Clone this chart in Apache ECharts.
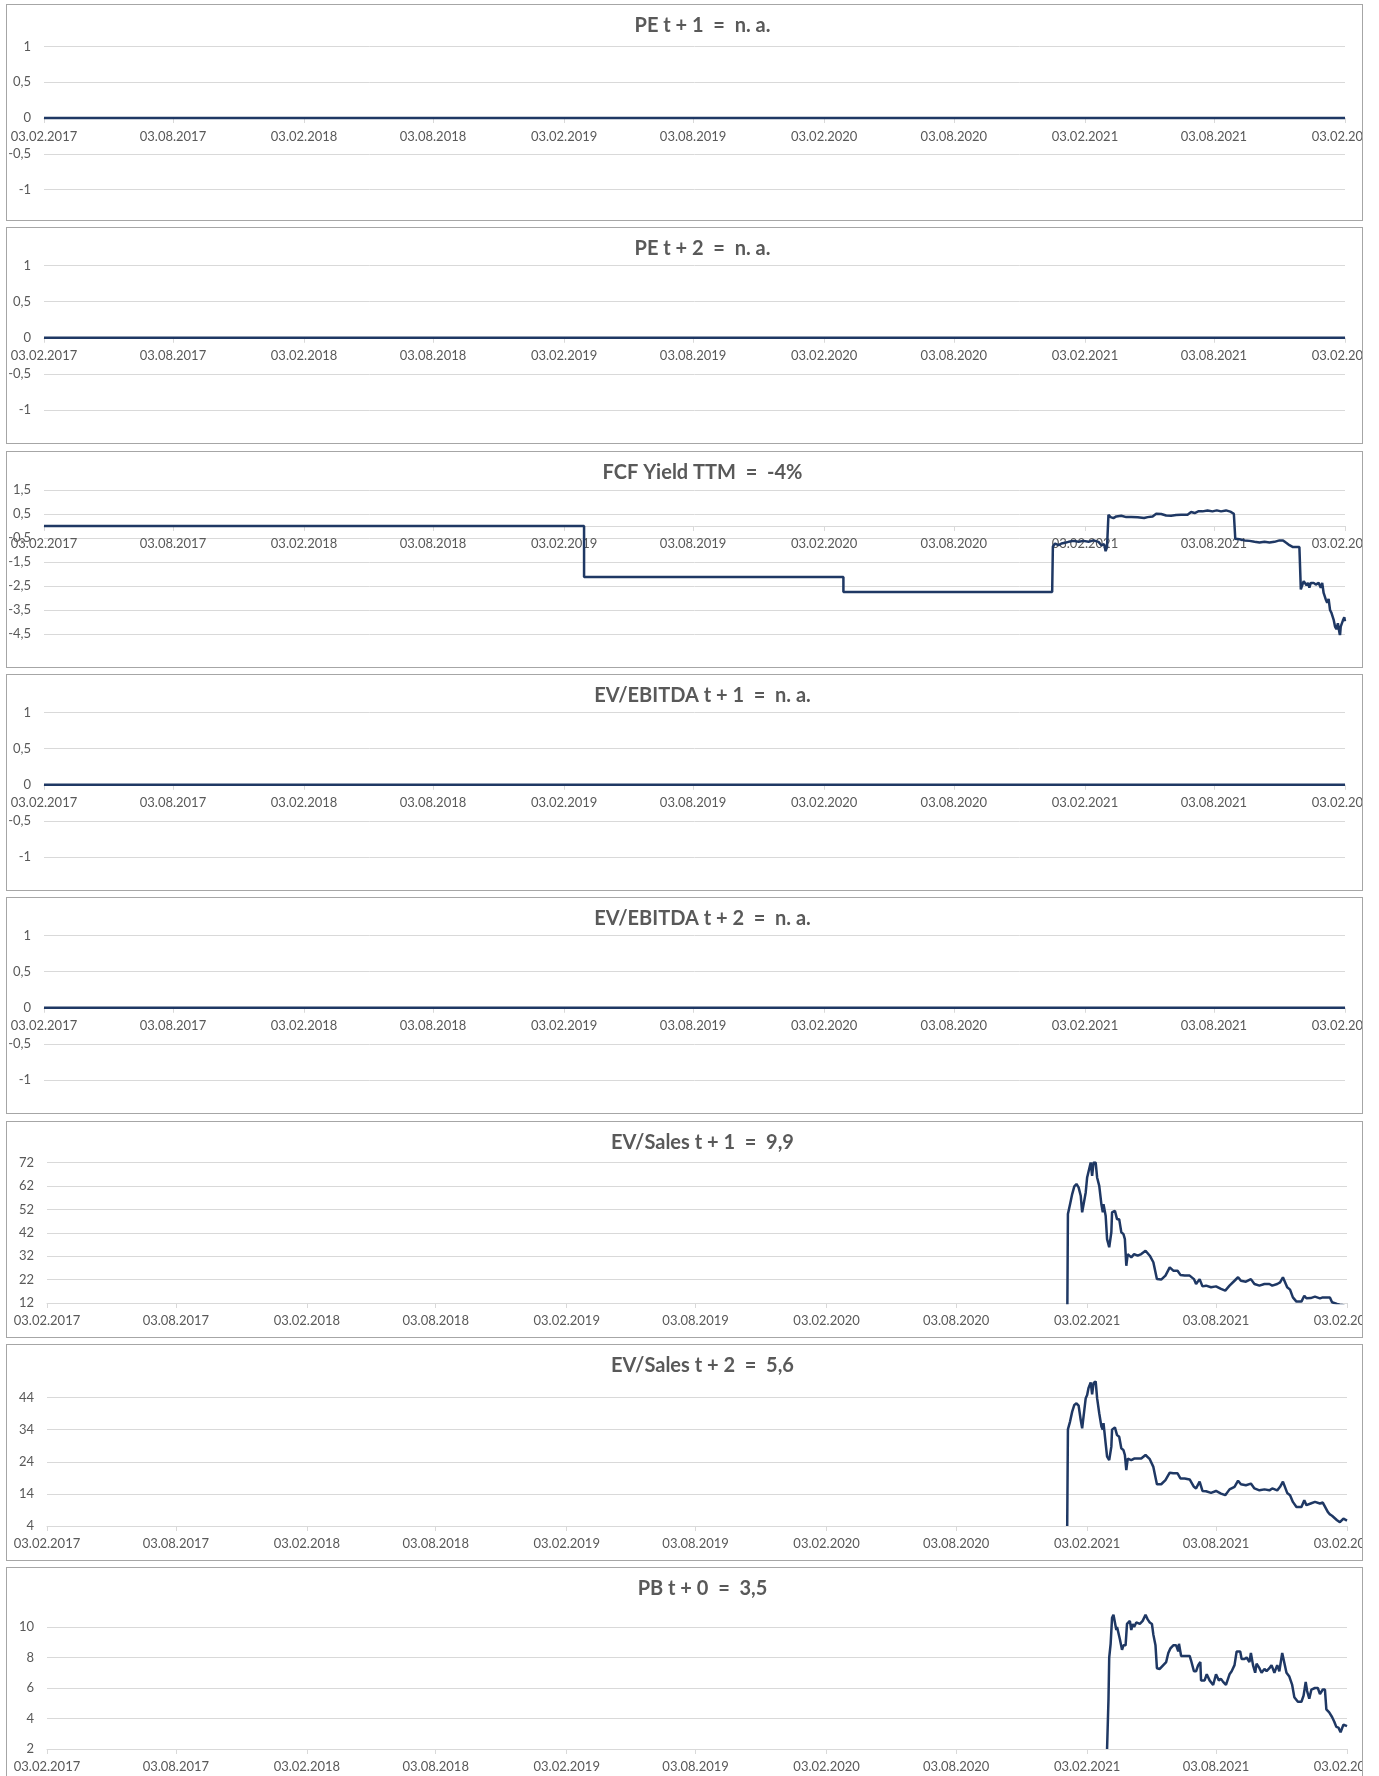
<!DOCTYPE html>
<html>
<head>
<meta charset="utf-8">
<title>Bewertungskennzahlen</title>
<script src="https://cdn.jsdelivr.net/npm/echarts@6.0.0/dist/echarts.min.js"></script>
<style>
html, body { margin: 0; padding: 0; background: #fff; }
body { width: 1379px; height: 1776px; position: relative; overflow: hidden; }
.panel {
  position: absolute;
  left: 6px;
  width: 1357px;
  height: 217px;
  box-sizing: border-box;
  border: 1px solid #a6a6a6;
  background: #fff;
}
.panel .chart { width: 1355px; height: 215px; }
</style>
</head>
<body>
<div id="root"></div>
<script>
// x-Achse: 03.02.2017 bis 03.02.2022, Beschriftung halbjährlich
const axisStart = '2017-02-03'
const axisEnd = '2022-02-03'
const tickDates = [
  '2017-02-03', '2017-08-03', '2018-02-03', '2018-08-03', '2019-02-03', '2019-08-03',
  '2020-02-03', '2020-08-03', '2021-02-03', '2021-08-03', '2022-02-03'
]

// Titel der Einzelcharts
const titles = [
  'PE t + 1  =  n. a.',
  'PE t + 2  =  n. a.',
  'FCF Yield TTM  =  -4%',
  'EV/EBITDA t + 1  =  n. a.',
  'EV/EBITDA t + 2  =  n. a.',
  'EV/Sales t + 1  =  9,9',
  'EV/Sales t + 2  =  5,6',
  'PB t + 0  =  3,5'
]

// n. a. -> Linie auf 0
const naDates = ['2017-02-03', '2022-02-03']
const naValues = [0, 0]

// FCF Yield TTM (%)
const fcfDates = [
  '2017-02-03', '2019-03-03', '2019-03-03', '2020-03-01', '2020-03-01', '2020-12-19', '2020-12-20',
  '2020-12-23', '2020-12-25', '2020-12-28', '2021-01-01', '2021-01-06', '2021-01-11', '2021-01-18',
  '2021-01-25', '2021-02-01', '2021-02-08', '2021-02-15', '2021-02-22', '2021-02-26', '2021-03-02',
  '2021-03-04', '2021-03-06', '2021-03-08', '2021-03-11', '2021-03-15', '2021-03-19', '2021-03-26',
  '2021-04-02', '2021-04-09', '2021-04-18', '2021-04-27', '2021-05-02', '2021-05-09', '2021-05-14',
  '2021-05-21', '2021-05-28', '2021-06-04', '2021-06-11', '2021-06-18', '2021-06-27', '2021-07-02',
  '2021-07-07', '2021-07-12', '2021-07-18', '2021-07-25', '2021-08-01', '2021-08-07', '2021-08-13',
  '2021-08-20', '2021-08-26', '2021-08-31', '2021-09-02', '2021-09-08', '2021-09-15', '2021-09-22',
  '2021-09-29', '2021-10-06', '2021-10-13', '2021-10-20', '2021-10-27', '2021-11-03', '2021-11-08',
  '2021-11-12', '2021-11-17', '2021-11-22', '2021-11-26', '2021-12-01', '2021-12-03', '2021-12-05',
  '2021-12-07', '2021-12-11', '2021-12-13', '2021-12-15', '2021-12-17', '2021-12-21', '2021-12-24',
  '2021-12-28', '2021-12-31', '2022-01-02', '2022-01-04', '2022-01-07', '2022-01-09', '2022-01-11',
  '2022-01-13', '2022-01-15', '2022-01-18', '2022-01-20', '2022-01-22', '2022-01-24', '2022-01-25',
  '2022-01-27', '2022-01-28', '2022-01-31', '2022-02-02', '2022-02-03'
]
const fcfValues = [
  0, 0, -2.13, -2.13, -2.75, -2.75, -0.85,
  -0.73, -0.66, -0.8, -0.73, -0.7, -0.66, -0.62,
  -0.66, -0.62, -0.66, -0.6, -0.66, -0.8, -0.76,
  -1.05, -0.88, 0.47, 0.37, 0.33, 0.4, 0.43,
  0.37, 0.37, 0.36, 0.33, 0.37, 0.4, 0.51,
  0.5, 0.44, 0.43, 0.46, 0.47, 0.47, 0.58,
  0.54, 0.61, 0.61, 0.65, 0.61, 0.65, 0.61,
  0.65, 0.6, 0.51, -0.53, -0.55, -0.6, -0.62,
  -0.66, -0.69, -0.66, -0.69, -0.66, -0.6, -0.6,
  -0.69, -0.8, -0.88, -0.88, -0.88, -2.64, -2.57,
  -2.3, -2.47, -2.37, -2.57, -2.37, -2.37, -2.44,
  -2.37, -2.57, -2.37, -2.79, -3.06, -3.2, -3.04,
  -3.5, -3.62, -3.9, -4.19, -4.3, -4.05, -4.25,
  -4.57, -4.19, -3.94, -3.8, -3.97
]

// EV/Sales t+1 und t+2
const salesDates = [
  '2021-01-06', '2021-01-07', '2021-01-10', '2021-01-13', '2021-01-16', '2021-01-19', '2021-01-22',
  '2021-01-25', '2021-01-27', '2021-01-29', '2021-02-01', '2021-02-03', '2021-02-05', '2021-02-08',
  '2021-02-10', '2021-02-12', '2021-02-15', '2021-02-17', '2021-02-20', '2021-02-23', '2021-02-25',
  '2021-02-26', '2021-03-01', '2021-03-03', '2021-03-06', '2021-03-09', '2021-03-10', '2021-03-14',
  '2021-03-17', '2021-03-20', '2021-03-23', '2021-03-26', '2021-03-28', '2021-03-30', '2021-04-01',
  '2021-04-06', '2021-04-10', '2021-04-15', '2021-04-20', '2021-04-26', '2021-05-02', '2021-05-07',
  '2021-05-12', '2021-05-18', '2021-05-24', '2021-05-30', '2021-06-04', '2021-06-10', '2021-06-14',
  '2021-06-20', '2021-06-27', '2021-07-03', '2021-07-06', '2021-07-11', '2021-07-15', '2021-07-20',
  '2021-07-27', '2021-08-03', '2021-08-10', '2021-08-16', '2021-08-22', '2021-08-29', '2021-09-03',
  '2021-09-07', '2021-09-14', '2021-09-21', '2021-09-26', '2021-10-03', '2021-10-10', '2021-10-17',
  '2021-10-21', '2021-10-28', '2021-11-01', '2021-11-05', '2021-11-07', '2021-11-11', '2021-11-15',
  '2021-11-19', '2021-11-24', '2021-12-01', '2021-12-05', '2021-12-08', '2021-12-14', '2021-12-20',
  '2021-12-27', '2021-12-31', '2022-01-07', '2022-01-10', '2022-01-13', '2022-01-15', '2022-01-20',
  '2022-01-24', '2022-01-29', '2022-02-03'
]
const salesT1Values = [
  0, 50, 54.2, 58.5, 61.8, 62.8, 61.4,
  57.8, 50.7, 51.4, 59.2, 65.6, 66.3, 72,
  66.3, 72, 72, 65.6, 62, 54.2, 50.7,
  54.2, 49.3, 39.3, 35.8, 42.2, 50.7, 51.4,
  47.8, 47.8, 42.2, 41.4, 39.3, 27.9, 32.9,
  31.5, 32.9, 32.2, 32.9, 34.3, 32.2, 29.4,
  22.2, 22, 23.7, 27.2, 25.8, 25.8, 24,
  23.7, 23.7, 22.2, 20.1, 22.2, 19.1, 19.4,
  18.7, 19.1, 18, 17.3, 19.4, 21.5, 23,
  21.5, 21.1, 22.2, 20.1, 19.4, 20.1, 20.1,
  19.4, 20.1, 20.8, 23, 22.2, 18.7, 17.7,
  14.4, 12.6, 12.6, 15.1, 14, 14.1, 14.7,
  14, 14.4, 14.4, 14.4, 12.3, 12, 11.6,
  11.3, 11, 9.9
]
const salesT2Values = [
  4, 34.1, 36.5, 39.6, 41.7, 42.2, 41.5,
  37, 34.4, 34.7, 43.8, 44.8, 47, 48.7,
  45, 48.5, 49, 43.8, 39.1, 35, 34,
  36, 29.7, 25.6, 24.5, 28.7, 34, 34.7,
  32.3, 31.8, 28.2, 27.6, 26.1, 21.4, 25,
  24.5, 25, 25, 25, 26.1, 24.8, 22.4,
  17, 17, 18.3, 20.6, 20.4, 20.4, 18.8,
  18.8, 18.5, 16.2, 15.7, 17.8, 14.9, 14.8,
  14.3, 14.9, 14.1, 13.6, 15.4, 16.2, 18.1,
  17, 16.7, 17.2, 15.7, 15.1, 15.4, 15.1,
  15.7, 15.1, 16.2, 17.8, 17.3, 14.3, 13.6,
  11.5, 9.9, 9.9, 12, 10.5, 11, 11.5,
  11, 11.3, 8.4, 7.6, 7.2, 6.8, 5.8,
  5.2, 6.3, 5.7
]

// PB t+0
const pbDates = [
  '2021-03-03', '2021-03-05', '2021-03-06', '2021-03-08', '2021-03-10', '2021-03-12', '2021-03-14',
  '2021-03-16', '2021-03-17', '2021-03-19', '2021-03-21', '2021-03-24', '2021-03-26', '2021-03-29',
  '2021-03-31', '2021-04-02', '2021-04-04', '2021-04-06', '2021-04-08', '2021-04-10', '2021-04-13',
  '2021-04-15', '2021-04-18', '2021-04-22', '2021-04-26', '2021-04-29', '2021-05-02', '2021-05-05',
  '2021-05-07', '2021-05-10', '2021-05-12', '2021-05-16', '2021-05-21', '2021-05-25', '2021-05-28',
  '2021-05-31', '2021-06-04', '2021-06-08', '2021-06-11', '2021-06-12', '2021-06-15', '2021-06-17',
  '2021-06-21', '2021-06-27', '2021-06-29', '2021-07-03', '2021-07-06', '2021-07-09', '2021-07-12',
  '2021-07-13', '2021-07-18', '2021-07-21', '2021-07-25', '2021-07-30', '2021-08-03', '2021-08-07',
  '2021-08-10', '2021-08-13', '2021-08-17', '2021-08-22', '2021-08-25', '2021-08-29', '2021-09-01',
  '2021-09-06', '2021-09-08', '2021-09-12', '2021-09-15', '2021-09-19', '2021-09-21', '2021-09-24',
  '2021-09-27', '2021-09-29', '2021-10-03', '2021-10-06', '2021-10-10', '2021-10-13', '2021-10-17',
  '2021-10-20', '2021-10-24', '2021-10-28', '2021-10-31', '2021-11-04', '2021-11-06', '2021-11-10',
  '2021-11-14', '2021-11-18', '2021-11-21', '2021-11-26', '2021-12-01', '2021-12-04', '2021-12-07',
  '2021-12-09', '2021-12-12', '2021-12-15', '2021-12-20', '2021-12-24', '2021-12-27', '2021-12-31',
  '2022-01-03', '2022-01-05', '2022-01-09', '2022-01-13', '2022-01-16', '2022-01-19', '2022-01-22',
  '2022-01-25', '2022-01-29', '2022-02-03'
]
const pbValues = [
  2, 5.3, 8, 8.9, 10.6, 10.8, 10.8,
  9.8, 10, 9.9, 9.2, 8.5, 8.8, 8.8,
  10.2, 10.3, 10.4, 9.8, 10.2, 10, 10.3,
  10.2, 10.2, 10.4, 10.8, 10.5, 10.3, 10.2,
  9.5, 8.8, 7.3, 7.25, 7.5, 7.7, 8.3,
  8.6, 8.8, 8.8, 8.4, 8.9, 8.1, 8.2,
  8.1, 8.1, 7.8, 7.1, 7.1, 7.5, 7.7,
  6.5, 6.5, 6.9, 6.5, 6.2, 6.9, 6.5,
  6.6, 6.4, 6.2, 6.9, 7.1, 7.5, 8.4,
  8.4, 7.9, 7.9, 8, 7.7, 8.3, 7.5,
  7, 7.6, 7.3, 7, 7.25, 7.1, 7.3,
  7.5, 7, 7.5, 7.1, 8.3, 8.4, 7,
  6.75, 6.2, 5.4, 5.1, 5.1, 5.5, 6.4,
  5.8, 5.3, 5.9, 6, 6, 5.6, 5.9,
  5.9, 4.6, 4.4, 4.1, 3.8, 3.45, 3.4,
  3.1, 3.6, 3.5
]

// Farben / Schrift
const LINE_COLOR = '#1f3864'
const GRID_COLOR = '#d9d9d9'
const TEXT_COLOR = '#595959'
const FONT = 'Lato, "Open Sans", sans-serif'

// Layout je Chart (Pixel innerhalb des Rahmens)
const panels = [
  { title: titles[0], dates: naDates, values: naValues, y: [-1, 1, 0.5], left: 37, top: 41.5, width: 1301, height: 143, labelGap: 12, clip: true },
  { title: titles[1], dates: naDates, values: naValues, y: [-1, 1, 0.5], left: 37, top: 37.5, width: 1301, height: 144.5, labelGap: 12, clip: true },
  { title: titles[2], dates: fcfDates, values: fcfValues, y: [-4.5, 1.5, 1], left: 37, top: 38, width: 1301, height: 144, labelGap: 11, clip: true },
  { title: titles[3], dates: naDates, values: naValues, y: [-1, 1, 0.5], left: 37, top: 37.5, width: 1301, height: 144.5, labelGap: 12, clip: true },
  { title: titles[4], dates: naDates, values: naValues, y: [-1, 1, 0.5], left: 37, top: 37.5, width: 1301, height: 144.5, labelGap: 12, clip: true },
  { title: titles[5], dates: salesDates, values: salesT1Values, y: [12, 72, 10], left: 40, top: 40.5, width: 1300, height: 140.5, labelGap: 11, clip: true },
  { title: titles[6], dates: salesDates, values: salesT2Values, y: [4, 44, 10], left: 40, top: 52.5, width: 1300, height: 128.5, labelGap: 11, clip: false },
  { title: titles[7], dates: pbDates, values: pbValues, y: [2, 10, 2], left: 40, top: 59, width: 1300, height: 122, labelGap: 11, clip: false }
]

const toTime = s => echarts.number.parseDate(s).getTime()
const tickValues = tickDates.map(toTime)

const pad = n => String(n).padStart(2, '0')
const formatDate = v => {
  const d = new Date(v)
  return pad(d.getDate()) + '.' + pad(d.getMonth() + 1) + '.' + d.getFullYear()
}
const formatNumber = v => String(v).replace('.', ',')

// wie in Excel: x-Achse kreuzt bei 0, wenn 0 im Wertebereich liegt
const zeroOffset = (p) => {
  const [min, max] = p.y
  if (min >= 0 || max <= 0) return 0
  return -p.height * (0 - min) / (max - min)
}

const buildOption = (p) => ({
  animation: false,
  grid: {
    left: p.left,
    top: p.top,
    width: p.width,
    height: p.height,
    outerBoundsMode: 'none',
    containLabel: false
  },
  graphic: [{
    type: 'text',
    x: 695.5,
    y: 20.5,
    silent: true,
    style: {
      text: p.title,
      fill: TEXT_COLOR,
      fontFamily: FONT,
      fontWeight: 'bold',
      fontSize: 20,
      align: 'center',
      verticalAlign: 'middle'
    }
  }],
  // Datumsachse als Zahlenachse (Zeitstempel), Ticks halbjährlich
  xAxis: {
    type: 'value',
    min: toTime(axisStart),
    max: toTime(axisEnd),
    position: 'bottom',
    offset: zeroOffset(p),
    axisLine: {
      onZero: false,
      lineStyle: { color: GRID_COLOR, width: 1 }
    },
    axisTick: {
      show: true,
      length: 5,
      customValues: tickValues,
      lineStyle: { color: GRID_COLOR }
    },
    axisLabel: {
      customValues: tickValues,
      formatter: formatDate,
      color: TEXT_COLOR,
      fontFamily: FONT,
      fontSize: 13,
      margin: p.labelGap
    },
    splitLine: { show: false }
  },
  yAxis: {
    type: 'value',
    min: p.y[0],
    max: p.y[1],
    interval: p.y[2],
    axisLine: { show: false, onZero: false },
    axisTick: { show: false },
    axisLabel: {
      formatter: formatNumber,
      color: TEXT_COLOR,
      fontFamily: FONT,
      fontSize: 13,
      margin: 13
    },
    splitLine: { lineStyle: { color: GRID_COLOR, width: 1 } }
  },
  series: [{
    type: 'line',
    data: p.dates.map((d, i) => [toTime(d), p.values[i]]),
    symbol: 'none',
    showSymbol: false,
    clip: p.clip,
    lineStyle: { color: LINE_COLOR, width: 2.5 },
    itemStyle: { color: LINE_COLOR }
  }]
})

const root = document.getElementById('root')
panels.forEach((p, i) => {
  const box = document.createElement('div')
  box.className = 'panel'
  box.style.top = (4 + Math.round(i * 223.3)) + 'px'
  const el = document.createElement('div')
  el.className = 'chart'
  box.appendChild(el)
  root.appendChild(box)
  const chart = echarts.init(el, null, { renderer: 'canvas' })
  chart.setOption(buildOption(p))
})
</script>
</body>
</html>
